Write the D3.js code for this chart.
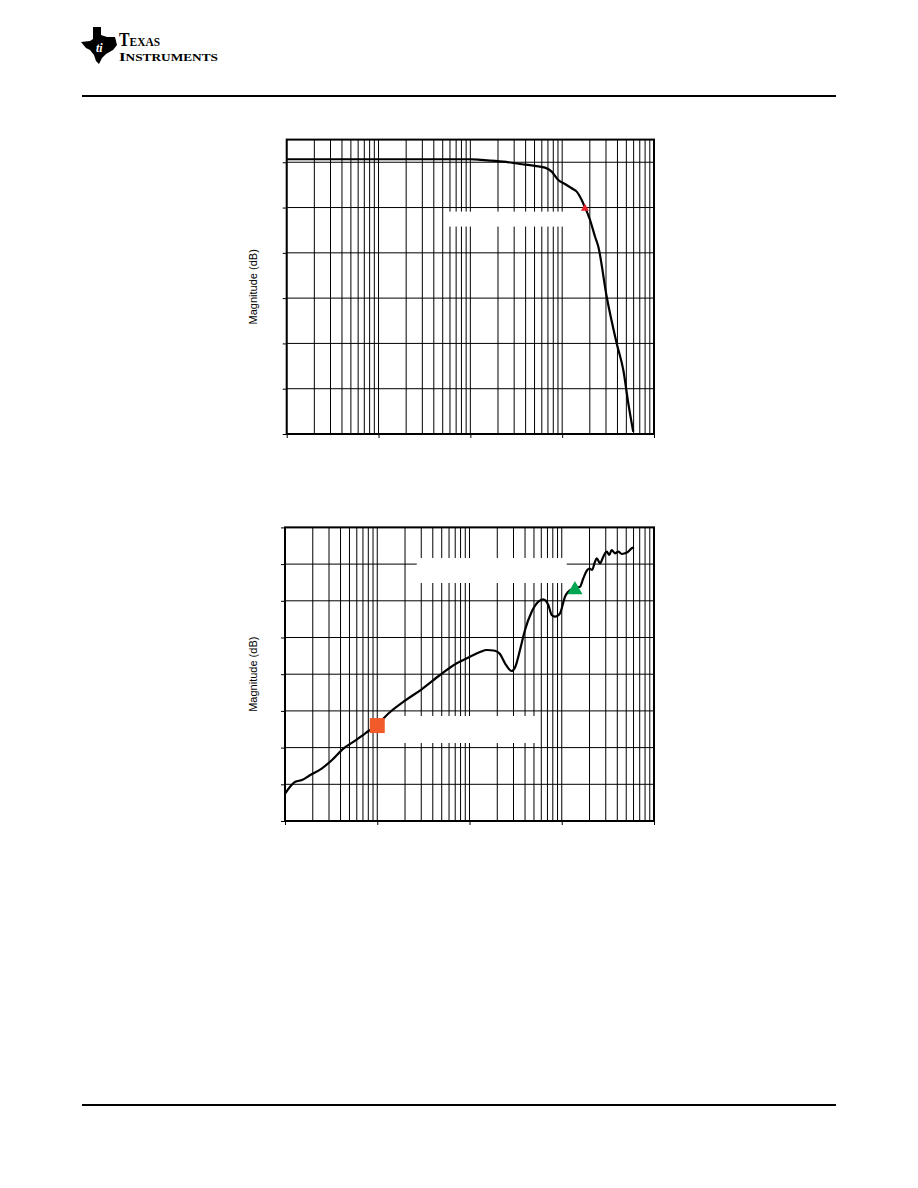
<!DOCTYPE html>
<html><head><meta charset="utf-8">
<script src="https://cdn.jsdelivr.net/npm/d3@7"></script>
<style>body{margin:0;background:#fff}svg{display:block}</style>
</head><body>
<svg id="c" width="918" height="1188"></svg>
<script>
// ---------- DATA ----------
const yLabel = "Magnitude (dB)";
const logoLine1 = ["T", "EXAS"];
const logoLine2 = ["I", "NSTRUMENTS"];

// Chart 1 : low-pass response
const topFreq = [10, 30, 100, 300, 1000, 1329, 2284, 3472, 4845, 6497, 7691, 9072, 10730, 12700, 14390, 16310, 17710, 20090, 22770, 24720, 30550, 39260, 46340, 52480, 59430];
const topMag  = [0.66, 0.66, 0.66, 0.66, 0.66, 0.51, 0.13, -0.38, -0.75, -1.19, -2.08, -3.91, -4.79, -5.74, -6.49, -8.33, -9.94, -12.7, -16.4, -18.6, -29.7, -40.0, -45.9, -53.2, -59.5];
const topYTicks = [-60, -50, -40, -30, -20, -10, 0];
const topMarker = [{f: 17700, db: -10.2}];

// Chart 2 : rising response
const botFreq = [10.07, 12.93, 15.29, 18.81, 25.18, 32.32, 43.28, 55.55, 74.22, 99.4, 133.1, 199.9, 303.3, 478.8, 726.5, 1013, 1299, 1536, 1890, 2141, 2425, 2868, 3113, 3527, 3996, 4724, 5569, 6310, 7147, 7782, 8451, 9572, 10850, 11780, 13580, 15770, 17130, 18920, 19990, 21280, 22920, 23930, 25990, 28200, 30700, 32750, 34770, 37780, 41040, 44670, 48520, 52620, 57290, 60700];
const botMag  = [-72.45, -69.29, -68.83, -67.47, -65.64, -63.38, -60.19, -58.39, -56.10, -53.84, -50.65, -47.22, -44.11, -40.22, -37.03, -35.23, -33.95, -33.41, -33.60, -34.50, -37.03, -39.13, -38.17, -33.41, -27.96, -22.97, -20.25, -19.59, -21.14, -23.87, -24.33, -23.41, -18.88, -17.52, -16.60, -16.16, -13.87, -11.61, -11.2, -11.61, -9.35, -8.42, -9.78, -7.98, -6.62, -7.52, -6.16, -7.06, -6.62, -7.25, -7.06, -6.62, -5.69, -5.42];
const botYTicks = [-80, -70, -60, -50, -40, -30, -20, -10, 0];
const botSquare = [{f: 100, db: -54}];
const botTriangle = [{f: 13900, db: -17}];

const xDomain = [10, 100000];
const xDecades = [10, 100, 1000, 10000, 100000];

// ---------- DRAW ----------
const svg = d3.select("#c");
svg.append("rect").attr("width", 918).attr("height", 1188).attr("fill", "#fff");

// header / footer rules
svg.append("rect").attr("x", 82).attr("y", 95).attr("width", 754).attr("height", 2).attr("fill", "#000");
svg.append("rect").attr("x", 82).attr("y", 1104).attr("width", 754).attr("height", 2).attr("fill", "#000");

// logo
const logo = svg.append("g");
logo.append("path")
  .attr("d", "M93,27 L101,27 L101,35 L107,37 L115,37 L117,45 L113,50 L106,54 L102,58 L99,64 L96,61 L94,55 L90,50 L86,48 L81,42 L90,41 L93,39 Z")
  .attr("fill", "#000");
logo.append("text").attr("x", 96).attr("y", 52).attr("font-family", "Liberation Serif").attr("font-weight", "bold")
  .attr("font-style", "italic").attr("font-size", 12).attr("fill", "#fff").text("ti");
const t1 = logo.append("text").attr("x", 119).attr("y", 46).attr("font-family", "Liberation Serif")
  .attr("font-weight", "bold").attr("fill", "#000").attr("textLength", 41).attr("lengthAdjust", "spacingAndGlyphs");
t1.append("tspan").attr("font-size", 18).text(logoLine1[0]);
t1.append("tspan").attr("font-size", 13).text(logoLine1[1]);
const t2 = logo.append("text").attr("x", 119).attr("y", 61).attr("font-family", "Liberation Serif")
  .attr("font-weight", "bold").attr("fill", "#000").attr("textLength", 99).attr("lengthAdjust", "spacingAndGlyphs");
t2.append("tspan").attr("font-size", 12).text(logoLine2[0]);
t2.append("tspan").attr("font-size", 9.5).text(logoLine2[1]);

function minorTicks() {
  const out = [];
  for (let d = 0; d < xDecades.length - 1; d++)
    for (let k = 1; k <= 9; k++) out.push(xDecades[d] * k);
  out.push(xDecades[xDecades.length - 1]);
  return out;
}

function drawChart(cfg) {
  const x = d3.scaleLog().domain(xDomain).range([cfg.left, cfg.right]);
  const y = d3.scaleLinear().domain(cfg.yDomain).range([cfg.bottom, cfg.top]);
  const g = svg.append("g");

  // vertical grid
  g.append("g").selectAll("line").data(minorTicks()).join("line")
    .attr("x1", d => x(d)).attr("x2", d => x(d)).attr("y1", cfg.top).attr("y2", cfg.bottom)
    .attr("stroke", "#000").attr("stroke-width", 1);
  // horizontal grid
  g.append("g").selectAll("line").data(cfg.yTicks).join("line")
    .attr("x1", cfg.left).attr("x2", cfg.right).attr("y1", d => y(d)).attr("y2", d => y(d))
    .attr("stroke", "#000").attr("stroke-width", 1);

  // axes (ticks only)
  const ya = d3.axisLeft(y).tickValues(cfg.yTicks).tickSize(4).tickFormat("");
  g.append("g").attr("transform", `translate(${cfg.left},0)`).call(ya)
    .call(s => s.select(".domain").remove()).selectAll("line").attr("stroke-width", 1);
  const xa = d3.axisBottom(x).tickValues(xDecades).tickSize(4).tickFormat("");
  g.append("g").attr("transform", `translate(0,${cfg.bottom})`).call(xa)
    .call(s => s.select(".domain").remove()).selectAll("line").attr("stroke-width", 1);

  // frame
  g.append("rect").attr("x", cfg.left).attr("y", cfg.top)
    .attr("width", cfg.right - cfg.left).attr("height", cfg.bottom - cfg.top)
    .attr("fill", "none").attr("stroke", "#000").attr("stroke-width", 2);

  // blanked annotation areas
  cfg.boxes.forEach(b => {
    g.append("rect").attr("x", x(b[0])).attr("y", y(b[3]))
      .attr("width", x(b[1]) - x(b[0])).attr("height", y(b[2]) - y(b[3])).attr("fill", "#fff");
  });

  // curve
  const pts = cfg.freq.map((f, i) => [f, cfg.mag[i]]);
  g.append("path").datum(pts)
    .attr("d", d3.line().x(d => x(d[0])).y(d => y(d[1])).curve(d3.curveMonotoneX))
    .attr("fill", "none").attr("stroke", "#000").attr("stroke-width", 2.2).attr("stroke-linejoin", "round");

  // markers
  cfg.markers.forEach(m => {
    g.append("g").selectAll("path").data(m.data).join("path")
      .attr("transform", d => `translate(${x(d.f)},${y(d.db)})`)
      .attr("d", d3.symbol().type(m.type).size(m.size))
      .attr("fill", m.color);
  });

  // y label
  svg.append("text")
    .attr("transform", `translate(${cfg.labelX},${(cfg.top + cfg.bottom) / 2}) rotate(-90)`)
    .attr("text-anchor", "middle").attr("font-family", "Liberation Sans, Arial, sans-serif")
    .attr("font-size", 11).attr("fill", "#000").text(yLabel);
}

drawChart({
  left: 286.7, right: 654, top: 139.6, bottom: 434,
  yDomain: [-60, 5], yTicks: topYTicks,
  freq: topFreq, mag: topMag,
  boxes: [[556, 11000, -14.2, -10.9]],
  markers: [{data: topMarker, type: d3.symbolTriangle, size: 28, color: "#E8202A"}],
  labelX: 257
});

drawChart({
  left: 285, right: 654, top: 527.4, bottom: 821,
  yDomain: [-80, 0], yTicks: botYTicks,
  freq: botFreq, mag: botMag,
  boxes: [[268, 11320, -15.15, -8.34], [124, 5530, -58.75, -51.39]],
  markers: [
    {data: botSquare, type: d3.symbolSquare, size: 225, color: "#F15A29"},
    {data: botTriangle, type: d3.symbolTriangle, size: 100, color: "#00A651"}
  ],
  labelX: 257
});
</script>
</body></html>
